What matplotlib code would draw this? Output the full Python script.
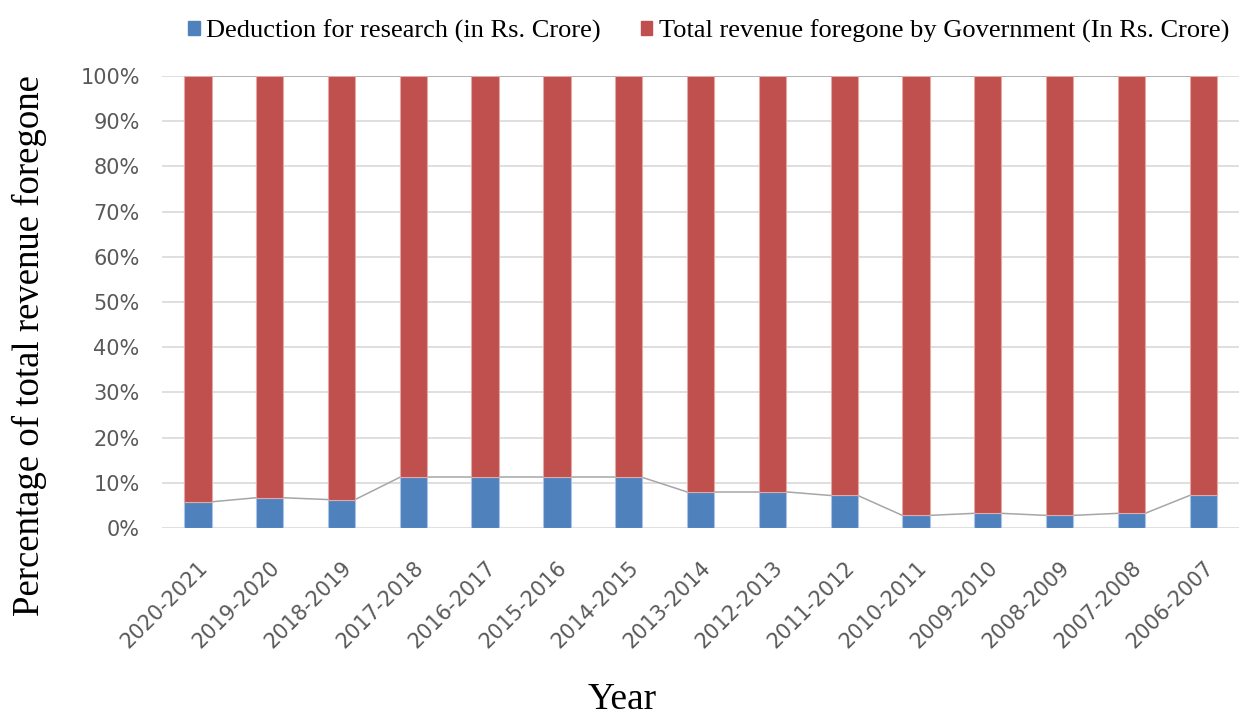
import matplotlib.pyplot as plt
import numpy as np
from matplotlib.patches import Patch

years = ['2020-2021', '2019-2020', '2018-2019', '2017-2018', '2016-2017',
         '2015-2016', '2014-2015', '2013-2014', '2012-2013', '2011-2012',
         '2010-2011', '2009-2010', '2008-2009', '2007-2008', '2006-2007']
# share of deduction for research in total (percent)
deduction_pct = [5.8, 6.7, 6.3, 11.2, 11.2, 11.2, 11.2, 8.0, 8.0, 7.2,
                 2.8, 3.25, 2.8, 3.25, 7.2]
revenue_pct = [100 - d for d in deduction_pct]

blue = '#4F81BD'
red = '#C0504D'

fig = plt.figure(figsize=(12.41, 7.19), dpi=100)
ax = fig.add_axes([0.1305, 0.2656, 0.868, 0.6287])

x = np.arange(len(years))
w = 0.38
ax.bar(x, deduction_pct, w, color=blue, edgecolor='#A9C4E6', linewidth=0.8, zorder=3)
ax.bar(x, revenue_pct, w, bottom=deduction_pct, color=red, edgecolor='#E3A9A7',
       linewidth=0.8, zorder=3)

# series lines between bar tops
tops_blue = np.array(deduction_pct)
tops_red = tops_blue + np.array(revenue_pct)
for tops in (tops_blue, tops_red):
    for i in range(len(x) - 1):
        ax.plot([x[i] + w / 2, x[i + 1] - w / 2], [tops[i], tops[i + 1]],
                color='#A6A6A6', linewidth=1.1, zorder=2)

ax.set_xlim(-0.5, len(years) - 0.5)
ax.set_ylim(0, 100)
ax.set_yticks(np.arange(0, 101, 10))
ax.set_yticklabels([f'{v}%' for v in range(0, 101, 10)])
ax.set_xticks(x)
ax.set_xticklabels(years, rotation=45, ha='right', rotation_mode='anchor')
ax.tick_params(axis='both', length=0, labelsize=15, labelcolor='#595959')
ax.tick_params(axis='y', pad=16)
ax.tick_params(axis='x', pad=21)
ax.grid(axis='y', color='#D9D9D9', linewidth=1.2, zorder=0)
for s in ax.spines.values():
    s.set_visible(False)

fig.text(29 / 1241, 0.519, 'Percentage of total revenue foregone', rotation=90,
         family='Liberation Serif', fontsize=26.5, ha='center', va='center')
fig.text(0.501, 0.014, 'Year', family='Liberation Serif', fontsize=27, ha='center',
         va='baseline')

handles = [Patch(color=blue, label='Deduction for research (in Rs. Crore)'),
           Patch(color=red, label='Total revenue foregone by Government (In Rs. Crore)')]
fig.legend(handles=handles, loc='center', bbox_to_anchor=(0.571, 0.957), ncol=2,
           frameon=False, prop={'family': 'Liberation Serif', 'size': 19},
           handlelength=0.45, handleheight=0.45, handletextpad=0.25, columnspacing=1.5)

plt.savefig('out.png', dpi=100)
